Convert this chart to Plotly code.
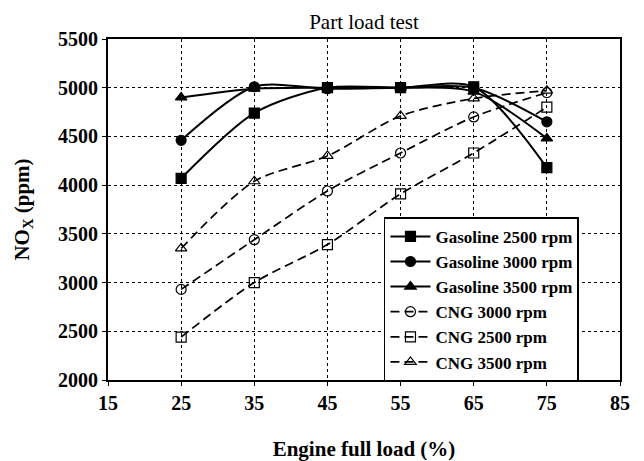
import plotly.graph_objects as go

load = [25, 35, 45, 55, 65, 75]
gas_2500 = [4070, 4740, 5000, 5000, 5010, 4180]
gas_3000 = [4460, 5010, 4990, 5000, 5000, 4650]
gas_3500 = [4900, 4990, 5000, 5000, 4960, 4480]
cng_3000 = [2930, 3440, 3940, 4330, 4700, 4950]
cng_2500 = [2440, 3000, 3390, 3910, 4330, 4800]
cng_3500 = [3350, 4040, 4300, 4710, 4890, 4970]

series = [
    ("Gasoline 2500 rpm", gas_2500, "solid", "square"),
    ("Gasoline 3000 rpm", gas_3000, "solid", "circle"),
    ("Gasoline 3500 rpm", gas_3500, "solid", "triangle-up"),
    ("CNG 3000 rpm", cng_3000, "9px,5px", "circle-open"),
    ("CNG 2500 rpm", cng_2500, "9px,5px", "square-open"),
    ("CNG 3500 rpm", cng_3500, "9px,5px", "triangle-up-open"),
]

fig = go.Figure()
for name, vals, dash, sym in series:
    fig.add_trace(go.Scatter(
        x=load, y=vals, name=name, mode="lines+markers",
        line=dict(color="black", width=2 if dash == "solid" else 1.7, dash=dash, shape="spline", smoothing=0.8),
        marker=dict(symbol=sym, size=10, color="black", line=dict(color="black", width=1.2)),
    ))

# page has an 8px body margin, so the figure is 8px smaller and shifted
W, H = 636, 453
font = "Liberation Serif, Times New Roman, serif"
fig.update_layout(
    width=W, height=H,
    margin=dict(l=100, r=24, t=31, b=81, autoexpand=False),
    paper_bgcolor="white", plot_bgcolor="white",
    font=dict(family=font, color="black"),
    title=dict(text="Part load test", x=356 / W, xanchor="center", y=1 - 14 / H, yanchor="middle",
               font=dict(size=21, family=font)),
    showlegend=True,
    legend=dict(x=0.539, y=0.477, xanchor="left", yanchor="top", bgcolor="white",
                bordercolor="black", borderwidth=1.5, font=dict(size=17, family=font, weight="bold"),
                tracegroupgap=0, itemwidth=40),
    xaxis=dict(range=[15, 85], tickvals=[15, 25, 35, 45, 55, 65, 75, 85], showline=True, linecolor="black",
               linewidth=2, mirror=True, ticks="outside", ticklen=4, tickcolor="black",
               showgrid=True, gridcolor="black", griddash="dot", gridwidth=1, automargin=False,
               tickfont=dict(size=20, family=font, weight="bold"),
               title=dict(text="<b>Engine full load (%)</b>", font=dict(size=21, family=font), standoff=32),
               zeroline=False),
    yaxis=dict(range=[2000, 5500], tickvals=[2000, 2500, 3000, 3500, 4000, 4500, 5000, 5500], showline=True,
               linecolor="black", linewidth=2, mirror=True, ticks="outside", ticklen=4, tickcolor="black",
               showgrid=True, gridcolor="black", griddash="dot", gridwidth=1, automargin=False,
               tickfont=dict(size=20, family=font, weight="bold"),
               title=dict(text="<b>NO<sub>X</sub> (ppm)</b>", font=dict(size=21, family=font), standoff=23),
               zeroline=False),
)

fig.write_html("out.html")
